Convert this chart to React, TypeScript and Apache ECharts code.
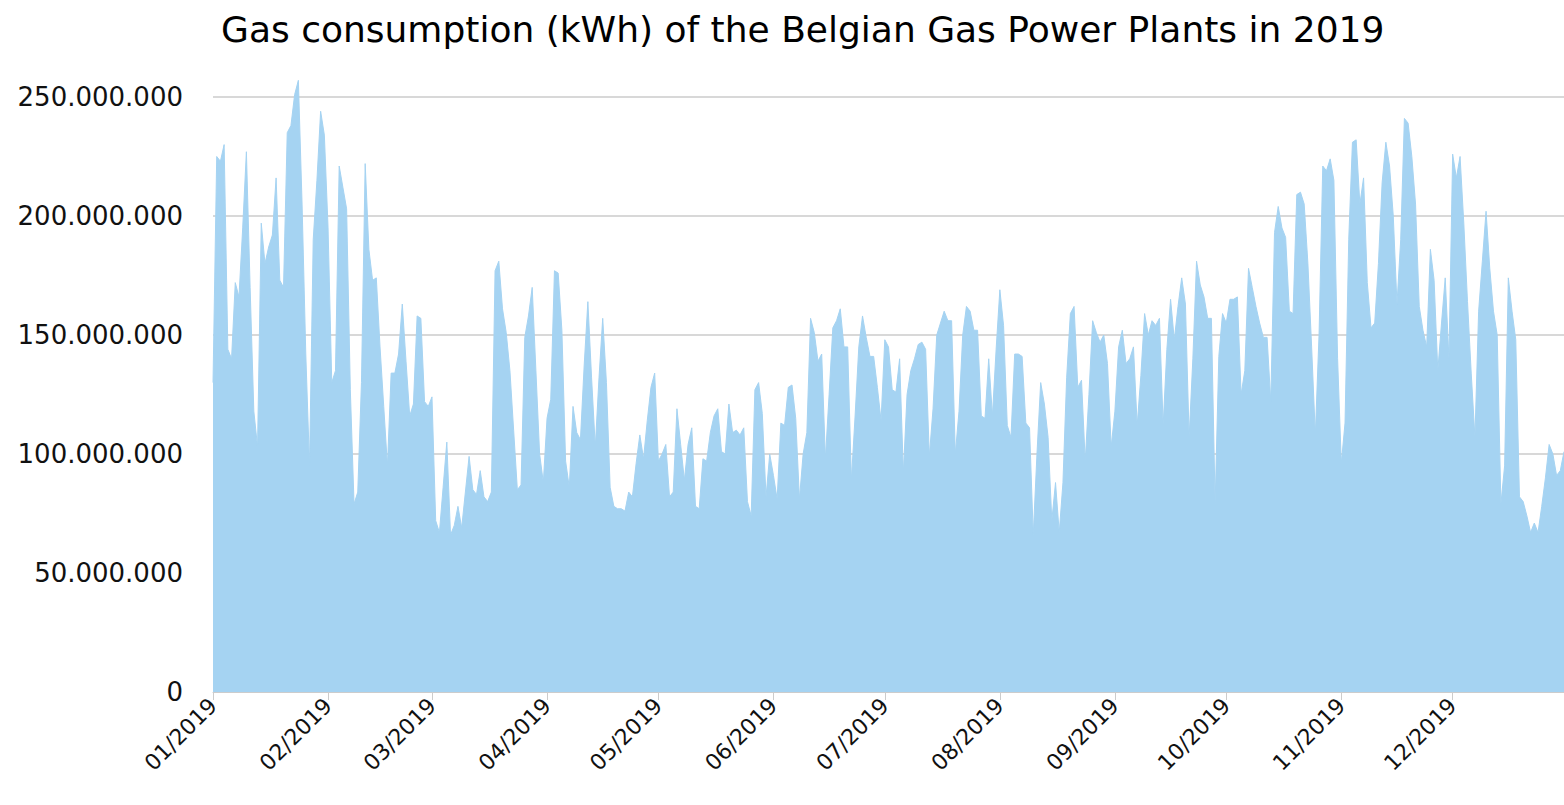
import React, { useEffect, useRef } from "react";
import * as echarts from "echarts";

const YEAR = 2019;
const monthLabels = ["01", "02", "03", "04", "05", "06", "07", "08", "09", "10", "11", "12"];
const yTicks = [0, 50e6, 100e6, 150e6, 200e6, 250e6];

// Daily gas consumption (kWh), one array per month
const jan = [130e6, 225e6, 223e6, 230e6, 144e6, 140e6, 172e6, 166e6, 195e6, 227e6, 170e6, 118e6, 103e6, 197e6, 180e6, 187e6, 192e6, 216e6, 173e6, 170e6, 235e6, 238e6, 251e6, 257e6, 205e6, 142e6, 95e6, 190e6, 215e6, 244e6, 234e6];
const feb = [195e6, 130e6, 135e6, 221e6, 212e6, 203e6, 127e6, 79e6, 84e6, 130e6, 222e6, 186e6, 173e6, 174e6, 145e6, 120e6, 95e6, 134e6, 134e6, 142e6, 163e6, 139e6, 116e6, 121e6, 158e6, 157e6, 122e6, 120e6];
const mar = [124e6, 72e6, 67e6, 86e6, 105e6, 66e6, 70e6, 78e6, 69e6, 84e6, 99e6, 85e6, 83e6, 93e6, 82e6, 80e6, 84e6, 177e6, 181e6, 161e6, 151e6, 135e6, 110e6, 85e6, 87e6, 149e6, 158e6, 170e6, 135e6, 100e6, 88e6];
const apr = [115e6, 123e6, 177e6, 176e6, 152e6, 97e6, 86e6, 120e6, 109e6, 106e6, 137e6, 164e6, 132e6, 103e6, 132e6, 157e6, 130e6, 86e6, 78e6, 77e6, 77e6, 76e6, 84e6, 82e6, 96e6, 108e6, 98e6, 114e6, 128e6, 134e6];
const may = [97e6, 100e6, 104e6, 82e6, 84e6, 119e6, 104e6, 89e6, 104e6, 111e6, 78e6, 77e6, 98e6, 97e6, 109e6, 116e6, 119e6, 101e6, 100e6, 121e6, 109e6, 110e6, 108e6, 111e6, 80e6, 74e6, 127e6, 130e6, 117e6, 82e6, 100e6];
const jun = [91e6, 81e6, 113e6, 112e6, 128e6, 129e6, 115e6, 81e6, 100e6, 109e6, 157e6, 151e6, 139e6, 142e6, 98e6, 125e6, 153e6, 156e6, 161e6, 145e6, 145e6, 89e6, 116e6, 145e6, 158e6, 149e6, 141e6, 141e6, 128e6, 114e6];
const jul = [148e6, 145e6, 127e6, 126e6, 140e6, 92e6, 125e6, 135e6, 140e6, 146e6, 147e6, 144e6, 99e6, 119e6, 150e6, 155e6, 160e6, 156e6, 156e6, 100e6, 118e6, 150e6, 162e6, 160e6, 152e6, 152e6, 116e6, 115e6, 140e6, 116e6, 144e6];
const aug = [169e6, 154e6, 112e6, 107e6, 142e6, 142e6, 141e6, 113e6, 111e6, 66e6, 100e6, 130e6, 121e6, 107e6, 72e6, 88e6, 67e6, 88e6, 132e6, 159e6, 162e6, 128e6, 131e6, 97e6, 125e6, 156e6, 151e6, 147e6, 150e6, 138e6, 103e6];
const sep = [118e6, 145e6, 152e6, 138e6, 140e6, 145e6, 112e6, 133e6, 159e6, 150e6, 156e6, 154e6, 157e6, 112e6, 144e6, 165e6, 148e6, 162e6, 174e6, 163e6, 107e6, 140e6, 181e6, 171e6, 166e6, 157e6, 157e6, 79e6, 141e6, 159e6];
const oct = [155e6, 165e6, 165e6, 166e6, 125e6, 135e6, 178e6, 170e6, 162e6, 155e6, 149e6, 149e6, 122e6, 193e6, 204e6, 195e6, 191e6, 160e6, 159e6, 209e6, 210e6, 205e6, 180e6, 145e6, 108e6, 150e6, 221e6, 219e6, 224e6, 215e6, 140e6];
const nov = [96e6, 113e6, 190e6, 231e6, 232e6, 205e6, 216e6, 172e6, 153e6, 155e6, 180e6, 214e6, 231e6, 221e6, 200e6, 163e6, 190e6, 241e6, 239e6, 225e6, 205e6, 162e6, 152e6, 145e6, 186e6, 173e6, 135e6, 155e6, 174e6, 140e6];
const dec = [226e6, 216e6, 225e6, 197e6, 164e6, 134e6, 107e6, 160e6, 181e6, 202e6, 178e6, 160e6, 150e6, 79e6, 95e6, 174e6, 160e6, 148e6, 82e6, 80e6, 74e6, 67e6, 71e6, 67e6, 78e6, 90e6, 104e6, 100e6, 91e6, 93e6, 101e6];

const monthlyValues = [jan, feb, mar, apr, may, jun, jul, aug, sep, oct, nov, dec];

const dates: string[] = [];
const values: number[] = [];
monthlyValues.forEach((arr, m) => {
  arr.forEach((v, d) => {
    dates.push(`${String(d + 1).padStart(2, "0")}/${monthLabels[m]}/${YEAR}`);
    values.push(v);
  });
});

const fmt = (v: number) => String(Math.round(v)).replace(/\B(?=(\d{3})+(?!\d))/g, ".");
const isMonthStart = (idx: number) => dates[idx].startsWith("01/");

export default function App() {
  const ref = useRef<HTMLDivElement>(null);
  useEffect(() => {
    if (!ref.current) return;
    const chart = echarts.init(ref.current, undefined, { renderer: "svg" });
    chart.setOption({
      animation: false,
      backgroundColor: "#ffffff",
      textStyle: { fontFamily: "DejaVu Sans" },
      title: {
        text: "Gas consumption (kWh) of the Belgian Gas Power Plants in 2019",
        left: 216,
        top: 6,
        textStyle: { fontSize: 36, fontWeight: "normal", color: "#000", fontFamily: "DejaVu Sans" },
      },
      grid: { left: 213, right: 0, top: 97, bottom: 113, containLabel: false },
      xAxis: {
        type: "category",
        boundaryGap: false,
        data: dates,
        axisLine: { show: true, lineStyle: { color: "#cccccc", width: 1 } },
        axisTick: {
          show: true,
          interval: (idx: number) => isMonthStart(idx),
          length: 8,
          lineStyle: { color: "#cccccc" },
        },
        axisLabel: {
          interval: (idx: number) => isMonthStart(idx),
          rotate: 45,
          fontSize: 22,
          color: "#111",
          margin: 10,
          formatter: (v: string) => v.slice(3),
        },
        splitLine: { show: false },
      },
      yAxis: {
        type: "value",
        min: yTicks[0],
        max: yTicks[yTicks.length - 1],
        interval: 50e6,
        axisLine: { show: false },
        axisTick: { show: false },
        axisLabel: { fontSize: 26, color: "#111", margin: 30, formatter: (v: number) => fmt(v) },
        splitLine: { lineStyle: { color: "#d8d8d8", width: 2 } },
      },
      series: [
        {
          type: "line",
          data: values,
          symbol: "none",
          clip: false,
          lineStyle: { color: "#a5d3f2", width: 1 },
          areaStyle: { color: "#a5d3f2", opacity: 1 },
          itemStyle: { color: "#a5d3f2" },
        },
      ],
    });
    return () => chart.dispose();
  }, []);
  return (
    <div
      ref={ref}
      style={{ position: "fixed", left: 0, top: 0, width: 1564, height: 805, background: "#fff" }}
    />
  );
}
